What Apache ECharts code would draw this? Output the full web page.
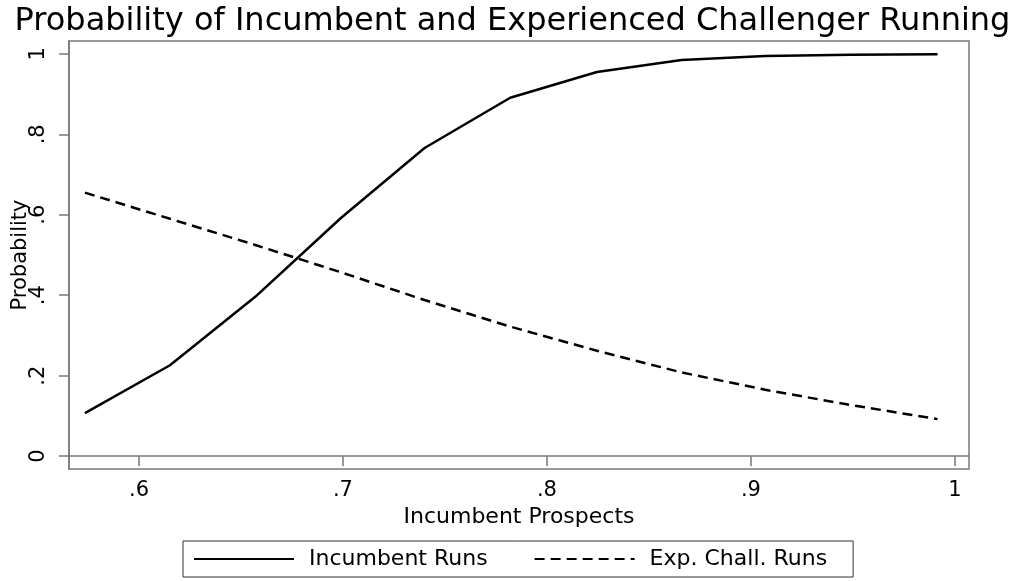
<!DOCTYPE html>
<html>
<head>
<meta charset="utf-8">
<script src="https://cdn.jsdelivr.net/npm/echarts@6/dist/echarts.min.js"></script>
<style>
  html, body { margin: 0; padding: 0; background: #fff; }
  #chart { width: 1025px; height: 581px; }
</style>
</head>
<body>
<div id="chart"></div>
<script>
// prospects (x) and the two probability curves
var prospects = [0.5735, 0.6152, 0.657, 0.699, 0.740, 0.782, 0.8245, 0.866, 0.907, 0.949, 0.9915];
var incumbentRuns = [0.107, 0.226, 0.396, 0.592, 0.766, 0.891, 0.955, 0.985, 0.995, 0.998, 0.999];
var challRuns = [0.655, 0.59, 0.525, 0.457, 0.388, 0.322, 0.262, 0.208, 0.165, 0.127, 0.092];

var xTicks = [0.6, 0.7, 0.8, 0.9, 1];
var xTickLabels = ['.6', '.7', '.8', '.9', '1'];
var yTicks = [0, 0.2, 0.4, 0.6, 0.8, 1];
var yTickLabels = ['0', '.2', '.4', '.6', '.8', '1'];

var font = 'DejaVu Sans';
var axisGray = '#7a7a7a';

function pairs(xs, ys) {
  return xs.map(function (x, i) { return [x, ys[i]]; });
}
function lookup(ticks, labels) {
  return function (v) {
    for (var i = 0; i < ticks.length; i++) {
      if (Math.abs(ticks[i] - v) < 1e-6) return labels[i];
    }
    return '';
  };
}

var myChart = echarts.init(document.getElementById('chart'));
myChart.setOption({
  backgroundColor: '#fff',
  animation: false,
  title: {
    text: 'Probability of Incumbent and Experienced Challenger Running',
    left: 'center',
    top: 1,
    textStyle: { fontFamily: font, fontSize: 32, fontWeight: 'normal', color: '#000' }
  },
  grid: {
    left: 69, right: 56, top: 41, bottom: 112,
    outerBoundsMode: 'none',
    show: true, borderColor: axisGray, borderWidth: 1.5
  },
  legend: {
    bottom: 4,
    left: 183,
    padding: [7, 26, 7, 10],
    borderColor: '#333',
    borderWidth: 1,
    itemWidth: 100,
    itemHeight: 14,
    itemGap: 46,
    itemStyle: { opacity: 0 },
    textStyle: { fontFamily: font, fontSize: 22, color: '#000', padding: [0, 0, 0, 10] },
    data: ['Incumbent Runs', 'Exp. Chall. Runs']
  },
  xAxis: {
    type: 'value',
    min: 0.5657,
    max: 1.0069,
    name: 'Incumbent Prospects',
    nameLocation: 'middle',
    nameGap: 37,
    nameMoveOverlap: false,
    nameTextStyle: { fontFamily: font, fontSize: 22, color: '#000' },
    axisLine: { show: true, lineStyle: { color: axisGray, width: 1.5 } },
    axisTick: { show: true, length: 10, customValues: xTicks, lineStyle: { color: axisGray, width: 1.5 } },
    axisLabel: {
      customValues: xTicks,
      formatter: lookup(xTicks, xTickLabels),
      margin: 11,
      fontFamily: font, fontSize: 21, color: '#000'
    },
    splitLine: { show: false }
  },
  yAxis: {
    type: 'value',
    min: -0.032,
    max: 1.032,
    name: 'Probability',
    nameLocation: 'middle',
    nameGap: 38,
    nameMoveOverlap: false,
    nameTextStyle: { fontFamily: font, fontSize: 21, color: '#000' },
    axisLine: { show: true, lineStyle: { color: axisGray, width: 1.5 } },
    axisTick: { show: true, length: 10, customValues: yTicks, lineStyle: { color: axisGray, width: 1.5 } },
    axisLabel: {
      customValues: yTicks,
      formatter: lookup(yTicks, yTickLabels),
      rotate: 90,
      margin: 20,
      fontFamily: font, fontSize: 21, color: '#000'
    },
    splitLine: { show: false }
  },
  series: [
    {
      name: 'Incumbent Runs',
      type: 'line',
      data: pairs(prospects, incumbentRuns),
      symbol: 'none',
      lineStyle: { color: '#000', width: 2.5 },
      itemStyle: { color: '#000' }
    },
    {
      name: 'Exp. Chall. Runs',
      type: 'line',
      data: pairs(prospects, challRuns),
      symbol: 'none',
      lineStyle: { color: '#000', width: 2.5, type: [10, 6] },
      itemStyle: { color: '#000' }
    }
  ]
});
</script>
</body>
</html>
